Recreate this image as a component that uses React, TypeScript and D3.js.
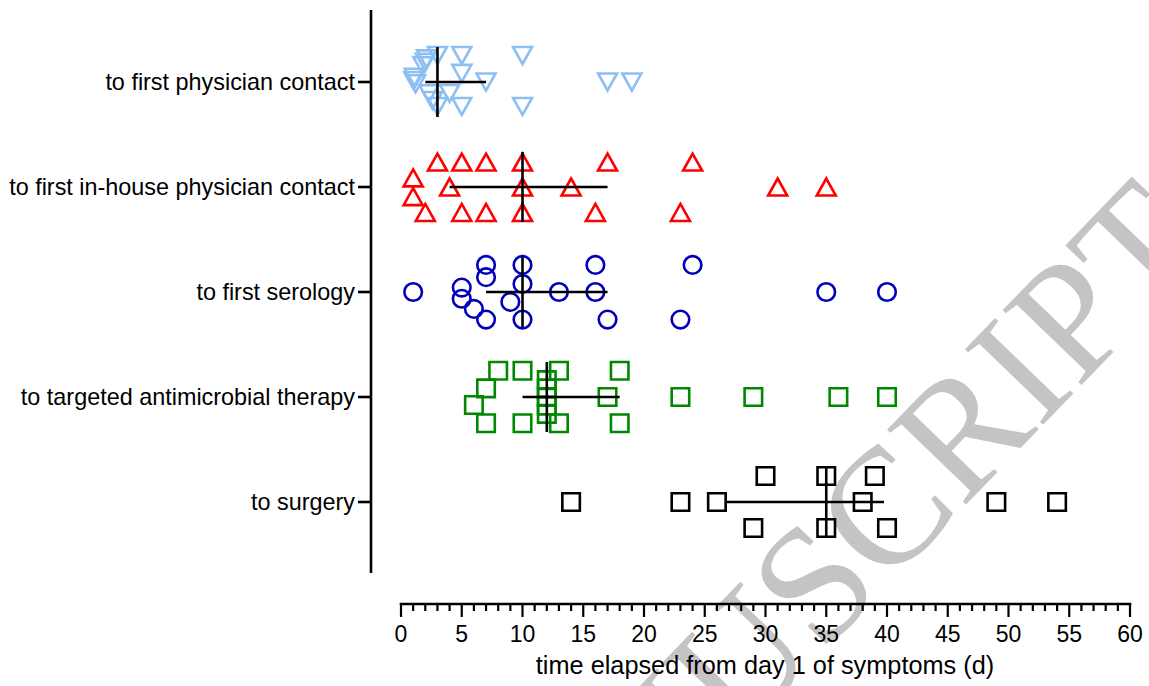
import React from "react";
import * as d3 from "d3";

const categories = [
  "to first physician contact",
  "to first in-house physician contact",
  "to first serology",
  "to targeted antimicrobial therapy",
  "to surgery",
];

const physicianDays = [3, 5, 10, 5, 7, 4, 3, 5, 10, 17, 19, 2.1, 2.0, 1.8, 1.1, 1.05, 1.2, 2.3, 2.6];
const physicianJitter = [-1.02, -1.02, -1.02, -0.33, 0, 0.44, 0.94, 0.94, 0.94, 0, 0, -0.89, -0.76, -0.63, -0.18, -0.06, 0.07, 0.45, 0.71];

const inHouseDays = [3, 5, 7, 10, 17, 24, 1, 4, 10, 14, 31, 35, 1, 2, 5, 7, 10, 16, 23];
const inHouseJitter = [-0.96, -0.96, -0.96, -0.96, -0.96, -0.96, -0.35, 0, 0, 0, 0, 0, 0.37, 0.98, 0.98, 0.98, 0.98, 0.98, 0.98];

const serologyDays = [7, 10, 16, 24, 7, 10, 5, 1, 13, 16, 35, 40, 5, 9, 6, 7, 10, 17, 23];
const serologyJitter = [-1.04, -1.04, -1.04, -1.04, -0.57, -0.31, -0.17, 0, 0, 0, 0, 0, 0.26, 0.38, 0.65, 1.06, 1.06, 1.06, 1.06];

const antimicrobialDays = [8, 10, 13, 18, 7, 6, 17, 23, 29, 36, 40, 7, 10, 13, 18, 12, 12, 12, 12, 12];
const antimicrobialJitter = [-1.01, -1.01, -1.01, -1.01, -0.33, 0.31, 0, 0, 0, 0, 0, 1.01, 1.01, 1.01, 1.01, -0.65, -0.33, 0, 0.33, 0.65];

const surgeryDays = [30, 35, 39, 14, 23, 26, 38, 49, 54, 29, 35, 40];
const surgeryJitter = [-1, -1, -1, 0, 0, 0, 0, 0, 0, 1, 1, 1];

const xTicks = [0, 5, 10, 15, 20, 25, 30, 35, 40, 45, 50, 55, 60];
const xTitle = "time elapsed from day 1 of symptoms (d)";
const watermark = "MANUSCRIPT";

const seriesDays = [physicianDays, inHouseDays, serologyDays, antimicrobialDays, surgeryDays];
const seriesJitter = [physicianJitter, inHouseJitter, serologyJitter, antimicrobialJitter, surgeryJitter];
const seriesColor = ["#8ebff3", "#ff0000", "#0000bb", "#008800", "#000000"];
const seriesShape = ["down", "up", "circle", "square", "square"];

// Prism-style percentile: position p*(n+1)
function pct(values: number[], p: number) {
  const s = [...values].sort((a, b) => a - b);
  const n = s.length;
  let pos = p * (n + 1);
  if (pos < 1) pos = 1;
  if (pos > n) pos = n;
  const lo = Math.floor(pos);
  const frac = pos - lo;
  if (lo >= n) return s[n - 1];
  return s[lo - 1] + frac * (s[lo] - s[lo - 1]);
}

function symbolPath(shape: string) {
  const w = 19, h = 17, s = 17.5;
  if (shape === "down") return `M${-w / 2},${-h / 2}L${w / 2},${-h / 2}L0,${h / 2}Z`;
  if (shape === "up") return `M0,${-h / 2}L${w / 2},${h / 2}L${-w / 2},${h / 2}Z`;
  if (shape === "square") return `M${-s / 2},${-s / 2}h${s}v${s}h${-s}Z`;
  return "";
}

export default function App() {
  const W = 1149, H = 686;
  const font = "'Liberation Sans', Arial, Helvetica, sans-serif";
  const x = d3.scaleLinear().domain([0, 60]).range([401, 1130]);
  const y = d3.scalePoint<string>().domain(categories).range([82, 502]);
  const jit = d3.scaleLinear().domain([-1, 1]).range([-26, 26]);
  const axisY = 604;
  const yAxisX = 371;
  const minor = d3.range(0, 61, 1);

  return (
    <svg width={W} height={H} style={{ position: "absolute", left: 0, top: 0, background: "#fff" }}>
      <rect x={0} y={0} width={W} height={H} fill="#fff" />
      {/* watermark */}
      <text
        transform={`translate(1212,250) rotate(-46)`}
        textAnchor="end"
        fontFamily="'Liberation Serif', 'Times New Roman', serif"
        fontSize={166}
        fill="#c4c4c4"
      >
        {watermark}
      </text>

      {/* y axis */}
      <line x1={yAxisX} x2={yAxisX} y1={10} y2={573} stroke="#000" strokeWidth={2.6} />
      {categories.map((c) => (
        <g key={c}>
          <line x1={yAxisX - 13} x2={yAxisX} y1={y(c)} y2={y(c)} stroke="#000" strokeWidth={2.6} />
          <text x={yAxisX - 16} y={y(c)! + 8} textAnchor="end" fontFamily={font} fontSize={23.4} fill="#000">
            {c}
          </text>
        </g>
      ))}

      {/* x axis */}
      <line x1={x(0) - 1.3} x2={x(60) + 1.3} y1={axisY} y2={axisY} stroke="#000" strokeWidth={2.6} />
      {minor.map((m) => (
        <line key={"m" + m} x1={x(m)} x2={x(m)} y1={axisY} y2={axisY + (m % 5 === 0 ? 13 : 7)} stroke="#000" strokeWidth={2.2} />
      ))}
      {xTicks.map((t) => (
        <text key={"t" + t} x={x(t)} y={axisY + 38} textAnchor="middle" fontFamily={font} fontSize={23} fill="#000">
          {t}
        </text>
      ))}
      <text x={765} y={axisY + 70} textAnchor="middle" fontFamily={font} fontSize={25.3} fill="#000">
        {xTitle}
      </text>

      {/* points */}
      {categories.map((c, i) => {
        const cy = y(c)!;
        const days = seriesDays[i];
        const jj = seriesJitter[i];
        const col = seriesColor[i];
        const shape = seriesShape[i];
        return (
          <g key={"s" + i}>
            {days.map((d, k) =>
              shape === "circle" ? (
                <circle key={k} cx={x(d)} cy={cy + jit(jj[k])} r={8.8} fill="none" stroke={col} strokeWidth={2.6} />
              ) : (
                <path key={k} transform={`translate(${x(d)},${cy + jit(jj[k])})`} d={symbolPath(shape)} fill="none" stroke={col} strokeWidth={2.6} />
              )
            )}
          </g>
        );
      })}

      {/* median + IQR */}
      {categories.map((c, i) => {
        const cy = y(c)!;
        const days = seriesDays[i];
        const med = pct(days, 0.5);
        const q1 = pct(days, 0.25);
        const q3 = pct(days, 0.75);
        return (
          <g key={"m" + i}>
            <line x1={x(q1)} x2={x(q3)} y1={cy} y2={cy} stroke="#000" strokeWidth={2.6} />
            <line x1={x(med)} x2={x(med)} y1={cy - 35} y2={cy + 35} stroke="#000" strokeWidth={2.6} />
          </g>
        );
      })}
    </svg>
  );
}
